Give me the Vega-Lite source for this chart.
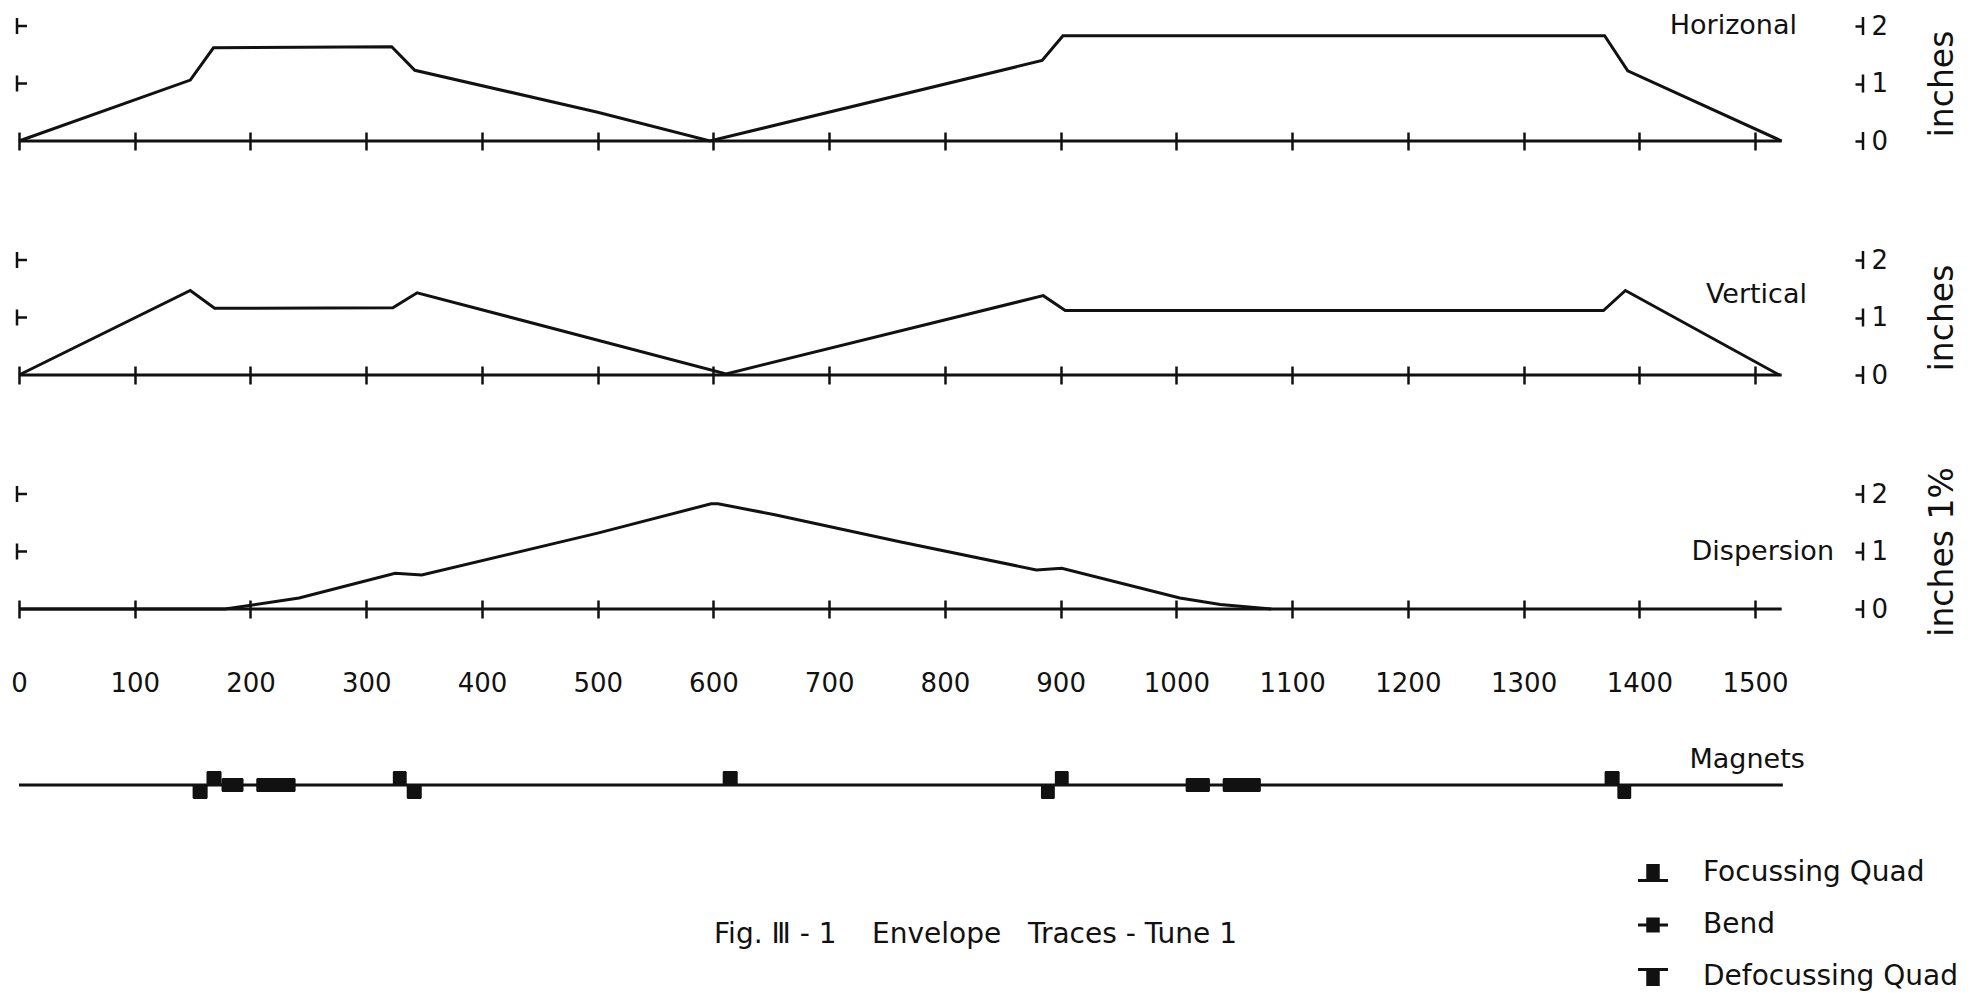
{
  "$schema": "https://vega.github.io/schema/vega-lite/v6.json",
  "background": "white",
  "padding": {"top": 12, "left": 10, "right": 2, "bottom": 2},
  "config": {
    "view": {"stroke": null},
    "font": "DejaVu Sans",
    "axis": {"labelColor": "#111", "titleColor": "#111", "grid": false}
  },
  "datasets": {
    "horizontal": [
      {"s": 0, "env": 0}, {"s": 148, "env": 1.06}, {"s": 168, "env": 1.62}, {"s": 322, "env": 1.64},
      {"s": 342, "env": 1.23}, {"s": 500, "env": 0.5}, {"s": 597, "env": 0}, {"s": 884, "env": 1.4},
      {"s": 902, "env": 1.83}, {"s": 1370, "env": 1.83}, {"s": 1390, "env": 1.22}, {"s": 1523, "env": 0}
    ],
    "vertical": [
      {"s": 0, "env": 0}, {"s": 148, "env": 1.47}, {"s": 169, "env": 1.16}, {"s": 323, "env": 1.17},
      {"s": 344, "env": 1.43}, {"s": 611, "env": 0.02}, {"s": 885, "env": 1.38}, {"s": 904, "env": 1.12},
      {"s": 1369, "env": 1.12}, {"s": 1388, "env": 1.47}, {"s": 1521, "env": 0}
    ],
    "dispersion": [
      {"s": 0, "env": 0}, {"s": 178, "env": 0}, {"s": 199, "env": 0.06}, {"s": 242, "env": 0.19},
      {"s": 325, "env": 0.62}, {"s": 348, "env": 0.59}, {"s": 500, "env": 1.32}, {"s": 598, "env": 1.83},
      {"s": 604, "env": 1.83}, {"s": 653, "env": 1.64}, {"s": 761, "env": 1.17}, {"s": 879, "env": 0.68},
      {"s": 901, "env": 0.71}, {"s": 1003, "env": 0.19}, {"s": 1038, "env": 0.08}, {"s": 1082, "env": 0}
    ],
    "magnets": [
      {"type": "Defocussing Quad", "start": 150, "end": 163},
      {"type": "Focussing Quad", "start": 162, "end": 175},
      {"type": "Bend", "start": 175, "end": 194},
      {"type": "Bend", "start": 205, "end": 239},
      {"type": "Focussing Quad", "start": 323, "end": 335},
      {"type": "Defocussing Quad", "start": 335, "end": 348},
      {"type": "Focussing Quad", "start": 608, "end": 621},
      {"type": "Defocussing Quad", "start": 883, "end": 895},
      {"type": "Focussing Quad", "start": 895, "end": 907},
      {"type": "Bend", "start": 1008, "end": 1029},
      {"type": "Bend", "start": 1040, "end": 1073},
      {"type": "Focussing Quad", "start": 1370, "end": 1383},
      {"type": "Defocussing Quad", "start": 1381, "end": 1393}
    ]
  },
  "spacing": 119,
  "bounds": "flush",
  "vconcat": [
    {
      "width": 1765, "height": 115,
      "resolve": {"axis": {"x": "independent", "y": "independent"}},
      "layer": [
        {
          "data": {"name": "horizontal"},
          "mark": {"type": "line", "color": "#111", "strokeWidth": 3, "strokeJoin": "miter"},
          "encoding": {
            "x": {"field": "s", "type": "quantitative", "scale": {"domain": [0, 1525], "nice": false, "zero": false},
                  "axis": {"values": [0,100,200,300,400,500,600,700,800,900,1000,1100,1200,1300,1400,1500], "offset": -9, "tickSize": 18, "tickWidth": 2.5, "tickColor": "#111", "domain": false, "labels": false, "title": null}},
            "y": {"field": "env", "type": "quantitative", "scale": {"domain": [0, 2], "nice": false, "zero": false},
                  "axis": {"orient": "right", "values": [0, 1, 2], "tickCount": 3, "labelExpr": "format(datum.value, 'd')", "offset": 71, "domain": false, "tickSize": 8, "tickWidth": 2.5, "tickColor": "#111", "labelFontSize": 26, "labelPadding": 8, "labelFlush": false, "labelOverlap": false, "title": "inches", "titleFontSize": 33, "titleFontWeight": "normal", "titleAngle": 270, "titlePadding": 72}}
          }
        },
        {
          "data": {"values": [{}]},
          "mark": {"type": "rule", "color": "#111", "strokeWidth": 3},
          "encoding": {
            "x": {"datum": 0, "type": "quantitative", "scale": {"domain": [0, 1525], "nice": false, "zero": false}, "axis": null},
            "x2": {"datum": 1523},
            "y": {"datum": 0, "type": "quantitative", "scale": {"domain": [0, 2], "nice": false, "zero": false}, "axis": null}
          }
        },
        {
          "data": {"values": [{"v": 1}, {"v": 2}]},
          "mark": {"type": "rule", "color": "#111", "strokeWidth": 2.5, "xOffset": -2, "yOffset": -8, "y2Offset": 8},
          "encoding": {
            "x": {"datum": 0, "type": "quantitative", "scale": {"domain": [0, 1525], "nice": false, "zero": false}, "axis": null},
            "y": {"field": "v", "type": "quantitative", "scale": {"domain": [0, 2], "nice": false, "zero": false}, "axis": null},
            "y2": {"field": "v"}
          }
        },
        {
          "data": {"values": [{"v": 1}, {"v": 2}]},
          "mark": {"type": "rule", "color": "#111", "strokeWidth": 2.5, "xOffset": -2, "x2Offset": 8},
          "encoding": {
            "x": {"datum": 0, "type": "quantitative", "scale": {"domain": [0, 1525], "nice": false, "zero": false}, "axis": null},
            "x2": {"datum": 0},
            "y": {"field": "v", "type": "quantitative", "scale": {"domain": [0, 2], "nice": false, "zero": false}, "axis": null}
          }
        },
        {
          "data": {"values": [{"v": 0}, {"v": 1}, {"v": 2}]},
          "mark": {"type": "rule", "color": "#111", "strokeWidth": 2.5, "xOffset": 79, "yOffset": -9, "y2Offset": 9},
          "encoding": {
            "x": {"datum": 1525, "type": "quantitative", "scale": {"domain": [0, 1525], "nice": false, "zero": false}, "axis": null},
            "y": {"field": "v", "type": "quantitative", "scale": {"domain": [0, 2], "nice": false, "zero": false}, "axis": null},
            "y2": {"field": "v"}
          }
        },
        {
          "data": {"values": [{}]},
          "mark": {"type": "text", "text": "Horizonal", "align": "right", "baseline": "middle", "fontSize": 27, "xOffset": 13, "color": "#111"},
          "encoding": {
            "x": {"datum": 1525, "type": "quantitative", "scale": {"domain": [0, 1525], "nice": false, "zero": false}, "axis": null},
            "y": {"datum": 2, "type": "quantitative", "scale": {"domain": [0, 2], "nice": false, "zero": false}, "axis": null}
          }
        }
      ]
    },
    {
      "width": 1765, "height": 115,
      "resolve": {"axis": {"x": "independent", "y": "independent"}},
      "layer": [
        {
          "data": {"name": "vertical"},
          "mark": {"type": "line", "color": "#111", "strokeWidth": 3, "strokeJoin": "miter"},
          "encoding": {
            "x": {"field": "s", "type": "quantitative", "scale": {"domain": [0, 1525], "nice": false, "zero": false},
                  "axis": {"values": [0,100,200,300,400,500,600,700,800,900,1000,1100,1200,1300,1400,1500], "offset": -9, "tickSize": 18, "tickWidth": 2.5, "tickColor": "#111", "domain": false, "labels": false, "title": null}},
            "y": {"field": "env", "type": "quantitative", "scale": {"domain": [0, 2], "nice": false, "zero": false},
                  "axis": {"orient": "right", "values": [0, 1, 2], "tickCount": 3, "labelExpr": "format(datum.value, 'd')", "offset": 71, "domain": false, "tickSize": 8, "tickWidth": 2.5, "tickColor": "#111", "labelFontSize": 26, "labelPadding": 8, "labelFlush": false, "labelOverlap": false, "title": "inches", "titleFontSize": 33, "titleFontWeight": "normal", "titleAngle": 270, "titlePadding": 72}}
          }
        },
        {
          "data": {"values": [{}]},
          "mark": {"type": "rule", "color": "#111", "strokeWidth": 3},
          "encoding": {
            "x": {"datum": 0, "type": "quantitative", "scale": {"domain": [0, 1525], "nice": false, "zero": false}, "axis": null},
            "x2": {"datum": 1523},
            "y": {"datum": 0, "type": "quantitative", "scale": {"domain": [0, 2], "nice": false, "zero": false}, "axis": null}
          }
        },
        {
          "data": {"values": [{"v": 1}, {"v": 2}]},
          "mark": {"type": "rule", "color": "#111", "strokeWidth": 2.5, "xOffset": -2, "yOffset": -8, "y2Offset": 8},
          "encoding": {
            "x": {"datum": 0, "type": "quantitative", "scale": {"domain": [0, 1525], "nice": false, "zero": false}, "axis": null},
            "y": {"field": "v", "type": "quantitative", "scale": {"domain": [0, 2], "nice": false, "zero": false}, "axis": null},
            "y2": {"field": "v"}
          }
        },
        {
          "data": {"values": [{"v": 1}, {"v": 2}]},
          "mark": {"type": "rule", "color": "#111", "strokeWidth": 2.5, "xOffset": -2, "x2Offset": 8},
          "encoding": {
            "x": {"datum": 0, "type": "quantitative", "scale": {"domain": [0, 1525], "nice": false, "zero": false}, "axis": null},
            "x2": {"datum": 0},
            "y": {"field": "v", "type": "quantitative", "scale": {"domain": [0, 2], "nice": false, "zero": false}, "axis": null}
          }
        },
        {
          "data": {"values": [{"v": 0}, {"v": 1}, {"v": 2}]},
          "mark": {"type": "rule", "color": "#111", "strokeWidth": 2.5, "xOffset": 79, "yOffset": -9, "y2Offset": 9},
          "encoding": {
            "x": {"datum": 1525, "type": "quantitative", "scale": {"domain": [0, 1525], "nice": false, "zero": false}, "axis": null},
            "y": {"field": "v", "type": "quantitative", "scale": {"domain": [0, 2], "nice": false, "zero": false}, "axis": null},
            "y2": {"field": "v"}
          }
        },
        {
          "data": {"values": [{}]},
          "mark": {"type": "text", "text": "Vertical", "align": "right", "baseline": "middle", "fontSize": 27, "xOffset": 23, "color": "#111"},
          "encoding": {
            "x": {"datum": 1525, "type": "quantitative", "scale": {"domain": [0, 1525], "nice": false, "zero": false}, "axis": null},
            "y": {"datum": 1.4, "type": "quantitative", "scale": {"domain": [0, 2], "nice": false, "zero": false}, "axis": null}
          }
        }
      ]
    },
    {
      "width": 1765, "height": 115,
      "resolve": {"axis": {"x": "independent", "y": "independent"}},
      "layer": [
        {
          "data": {"name": "dispersion"},
          "mark": {"type": "line", "color": "#111", "strokeWidth": 3, "strokeJoin": "miter"},
          "encoding": {
            "x": {"field": "s", "type": "quantitative", "scale": {"domain": [0, 1525], "nice": false, "zero": false},
                  "axis": {"values": [0,100,200,300,400,500,600,700,800,900,1000,1100,1200,1300,1400,1500], "format": "d", "offset": -9, "tickSize": 18, "tickWidth": 2.5, "tickColor": "#111", "domain": false, "labels": true, "labelFontSize": 26, "labelPadding": 52, "labelFlush": false, "labelOverlap": false, "title": null}},
            "y": {"field": "env", "type": "quantitative", "scale": {"domain": [0, 2], "nice": false, "zero": false},
                  "axis": {"orient": "right", "values": [0, 1, 2], "tickCount": 3, "labelExpr": "format(datum.value, 'd')", "offset": 71, "domain": false, "tickSize": 8, "tickWidth": 2.5, "tickColor": "#111", "labelFontSize": 26, "labelPadding": 8, "labelFlush": false, "labelOverlap": false, "title": "inches 1%", "titleFontSize": 33, "titleFontWeight": "normal", "titleAngle": 270, "titlePadding": 72}}
          }
        },
        {
          "data": {"values": [{}]},
          "mark": {"type": "rule", "color": "#111", "strokeWidth": 3},
          "encoding": {
            "x": {"datum": 0, "type": "quantitative", "scale": {"domain": [0, 1525], "nice": false, "zero": false}, "axis": null},
            "x2": {"datum": 1523},
            "y": {"datum": 0, "type": "quantitative", "scale": {"domain": [0, 2], "nice": false, "zero": false}, "axis": null}
          }
        },
        {
          "data": {"values": [{"v": 1}, {"v": 2}]},
          "mark": {"type": "rule", "color": "#111", "strokeWidth": 2.5, "xOffset": -2, "yOffset": -8, "y2Offset": 8},
          "encoding": {
            "x": {"datum": 0, "type": "quantitative", "scale": {"domain": [0, 1525], "nice": false, "zero": false}, "axis": null},
            "y": {"field": "v", "type": "quantitative", "scale": {"domain": [0, 2], "nice": false, "zero": false}, "axis": null},
            "y2": {"field": "v"}
          }
        },
        {
          "data": {"values": [{"v": 1}, {"v": 2}]},
          "mark": {"type": "rule", "color": "#111", "strokeWidth": 2.5, "xOffset": -2, "x2Offset": 8},
          "encoding": {
            "x": {"datum": 0, "type": "quantitative", "scale": {"domain": [0, 1525], "nice": false, "zero": false}, "axis": null},
            "x2": {"datum": 0},
            "y": {"field": "v", "type": "quantitative", "scale": {"domain": [0, 2], "nice": false, "zero": false}, "axis": null}
          }
        },
        {
          "data": {"values": [{"v": 0}, {"v": 1}, {"v": 2}]},
          "mark": {"type": "rule", "color": "#111", "strokeWidth": 2.5, "xOffset": 79, "yOffset": -9, "y2Offset": 9},
          "encoding": {
            "x": {"datum": 1525, "type": "quantitative", "scale": {"domain": [0, 1525], "nice": false, "zero": false}, "axis": null},
            "y": {"field": "v", "type": "quantitative", "scale": {"domain": [0, 2], "nice": false, "zero": false}, "axis": null},
            "y2": {"field": "v"}
          }
        },
        {
          "data": {"values": [{}]},
          "mark": {"type": "text", "text": "Dispersion", "align": "right", "baseline": "middle", "fontSize": 27, "xOffset": 50, "color": "#111"},
          "encoding": {
            "x": {"datum": 1525, "type": "quantitative", "scale": {"domain": [0, 1525], "nice": false, "zero": false}, "axis": null},
            "y": {"datum": 1.0, "type": "quantitative", "scale": {"domain": [0, 2], "nice": false, "zero": false}, "axis": null}
          }
        }
      ]
    },
    {
      "width": 1765, "height": 114,
      "title": {"text": "Fig. Ⅲ - 1\u00a0\u00a0\u00a0 Envelope\u00a0\u00a0 Traces - Tune 1", "orient": "bottom", "anchor": "middle", "frame": "group", "dx": 74, "offset": 79, "fontSize": 28, "fontWeight": "normal", "color": "#111"},
      "layer": [
        {
          "data": {"values": [{}]},
          "mark": {"type": "rule", "color": "#111", "strokeWidth": 3},
          "encoding": {
            "x": {"datum": 0, "type": "quantitative", "scale": {"domain": [0, 1525], "nice": false, "zero": false}, "axis": null},
            "x2": {"datum": 1524},
            "y": {"datum": 0, "type": "quantitative", "scale": {"domain": [-1, 1], "nice": false, "zero": false}, "axis": null}
          }
        },
        {
          "data": {"name": "magnets"},
          "transform": [{"filter": "datum.type === 'Focussing Quad'"}],
          "mark": {"type": "bar", "orient": "horizontal", "size": 14, "yOffset": -7, "cornerRadius": 1.5, "color": "#111"},
          "encoding": {
            "x": {"field": "start", "type": "quantitative", "scale": {"domain": [0, 1525], "nice": false, "zero": false}, "axis": null},
            "x2": {"field": "end"},
            "y": {"datum": 0, "type": "quantitative", "scale": {"domain": [-1, 1], "nice": false, "zero": false}, "axis": null}
          }
        },
        {
          "data": {"name": "magnets"},
          "transform": [{"filter": "datum.type === 'Defocussing Quad'"}],
          "mark": {"type": "bar", "orient": "horizontal", "size": 14, "yOffset": 7, "cornerRadius": 1.5, "color": "#111"},
          "encoding": {
            "x": {"field": "start", "type": "quantitative", "scale": {"domain": [0, 1525], "nice": false, "zero": false}, "axis": null},
            "x2": {"field": "end"},
            "y": {"datum": 0, "type": "quantitative", "scale": {"domain": [-1, 1], "nice": false, "zero": false}, "axis": null}
          }
        },
        {
          "data": {"name": "magnets"},
          "transform": [{"filter": "datum.type === 'Bend'"}],
          "mark": {"type": "bar", "orient": "horizontal", "size": 14, "cornerRadius": 1.5},
          "encoding": {
            "x": {"field": "start", "type": "quantitative", "scale": {"domain": [0, 1525], "nice": false, "zero": false}, "axis": null},
            "x2": {"field": "end"},
            "y": {"datum": 0, "type": "quantitative", "scale": {"domain": [-1, 1], "nice": false, "zero": false}, "axis": null},
            "color": {
              "field": "type", "type": "nominal",
              "scale": {"domain": ["Focussing Quad", "Bend", "Defocussing Quad"], "range": ["#111", "#111", "#111"]},
              "legend": {
                "title": null, "orient": "none", "legendX": 1619, "legendY": 832,
                "labelFontSize": 28, "labelColor": "#111", "labelOffset": 35, "labelLimit": 0, "rowPadding": 23, "symbolSize": 900,
                "encode": {
                  "symbols": {
                    "update": {
                      "shape": {"signal": "datum.value === 'Focussing Quad' ? 'M-1,0.4H1V0.6H-1Z M-0.45,0.4V-0.6H0.45V0.4Z' : datum.value === 'Bend' ? 'M-1,-0.1H1V0.1H-1Z M-0.45,-0.5H0.45V0.5H-0.45Z' : 'M-1,-0.6H1V-0.4H-1Z M-0.45,-0.4H0.45V0.6H-0.45Z'"},
                      "fill": {"value": "#111"},
                      "strokeWidth": {"value": 0}
                    }
                  }
                }
              }
            }
          }
        },
        {
          "data": {"values": [{}]},
          "mark": {"type": "text", "text": "Magnets", "align": "right", "baseline": "middle", "fontSize": 27, "dy": -25, "color": "#111"},
          "encoding": {
            "x": {"datum": 1543, "type": "quantitative", "scale": {"domain": [0, 1525], "nice": false, "zero": false}, "axis": null},
            "y": {"datum": 0, "type": "quantitative", "scale": {"domain": [-1, 1], "nice": false, "zero": false}, "axis": null}
          }
        }
      ]
    }
  ]
}
